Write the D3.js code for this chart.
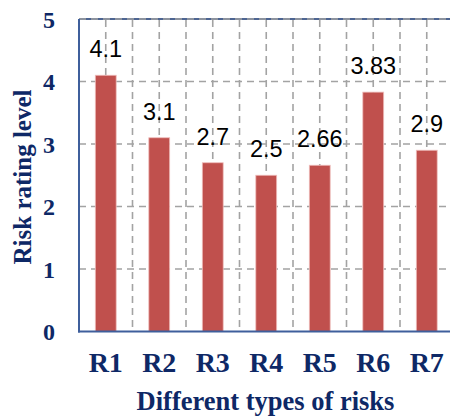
<!DOCTYPE html>
<html>
<head>
<meta charset="utf-8">
<script src="https://cdn.jsdelivr.net/npm/d3@7"></script>
<style>
  html, body { margin: 0; padding: 0; background: #fff; }
  svg { display: block; }
</style>
</head>
<body>
<svg id="chart" width="450" height="416"></svg>
<script>
const categories = ["R1", "R2", "R3", "R4", "R5", "R6", "R7"];
const values = [4.1, 3.1, 2.7, 2.5, 2.66, 3.83, 2.9];
const valueLabels = ["4.1", "3.1", "2.7", "2.5", "2.66", "3.83", "2.9"];
const yTicks = [0, 1, 2, 3, 4, 5];
const xTitle = "Different types of risks";
const yTitle = "Risk rating level";

(function () {
const svg = d3.select("#chart");
const mLeft = 79, mRight = 453.5, mTop = 19, mBottom = 331.5;
const navy = "#0e2866";
const axisBlue = "#3f5f9c";
const gridGray = "#a3a3a3";
const serif = "'Liberation Serif', 'Times New Roman', serif";

const x = d3.scaleBand().domain(categories).range([mLeft, mRight])
  .paddingInner(0.61).paddingOuter(0.305);
const y = d3.scaleLinear().domain([0, 5]).range([mBottom, mTop]);
const step = x.step();

// top border
svg.append("line").attr("x1", mLeft).attr("x2", 450).attr("y1", y(5)).attr("y2", y(5))
  .attr("stroke", "#4d6592").attr("stroke-width", 2);

// horizontal gridlines
svg.append("g").selectAll("line").data(yTicks.filter(d => d > 0)).join("line")
  .attr("x1", mLeft).attr("x2", 450)
  .attr("y1", d => y(d)).attr("y2", d => y(d))
  .attr("stroke", gridGray).attr("stroke-width", 1.6).attr("stroke-dasharray", "7,5");

// vertical gridlines: band centers and band boundaries
const vLines = [];
categories.forEach(c => {
  const cx = x(c) + x.bandwidth() / 2;
  vLines.push(cx);
  vLines.push(cx + step / 2);
});
svg.append("g").selectAll("line").data(vLines).join("line")
  .attr("x1", d => d).attr("x2", d => d)
  .attr("y1", mTop + 1).attr("y2", mBottom)
  .attr("stroke", gridGray).attr("stroke-width", 1.6).attr("stroke-dasharray", "7,5");

// bars
svg.append("g").selectAll("rect").data(categories).join("rect")
  .attr("x", c => x(c))
  .attr("y", (c, i) => y(values[i]))
  .attr("width", x.bandwidth())
  .attr("height", (c, i) => y(0) - y(values[i]))
  .attr("fill", "#C0504D")
  .attr("stroke", "#eebcbb").attr("stroke-width", 0.8);

// value labels
svg.append("g").selectAll("text").data(categories).join("text")
  .attr("x", c => x(c) + x.bandwidth() / 2)
  .attr("y", (c, i) => y(values[i]) - 18)
  .attr("text-anchor", "middle")
  .attr("font-family", "'Liberation Sans', Arial, sans-serif")
  .attr("font-size", 23.5)
  .attr("fill", "#000")
  .text((c, i) => valueLabels[i]);

// axes lines
svg.append("line").attr("x1", mLeft).attr("x2", mLeft).attr("y1", mTop).attr("y2", mBottom + 1)
  .attr("stroke", axisBlue).attr("stroke-width", 2);
svg.append("line").attr("x1", mLeft - 1).attr("x2", 450).attr("y1", mBottom).attr("y2", mBottom)
  .attr("stroke", axisBlue).attr("stroke-width", 2);

// y axis
const yAxis = svg.append("g").attr("transform", `translate(${mLeft},0)`)
  .call(d3.axisLeft(y).tickValues(yTicks).tickSize(0).tickPadding(24).tickFormat(d3.format("d")));
yAxis.select(".domain").remove();
yAxis.selectAll("text")
  .attr("font-family", serif)
  .attr("font-weight", "bold").attr("font-size", 24).attr("fill", navy)
  .attr("dy", "0.34em");

// x axis
const xAxis = svg.append("g").attr("transform", `translate(0,${mBottom})`)
  .call(d3.axisBottom(x).tickSize(0));
xAxis.select(".domain").remove();
xAxis.selectAll("text")
  .attr("y", 40.5).attr("dy", 0)
  .attr("font-family", serif)
  .attr("font-weight", "bold").attr("font-size", 28).attr("fill", navy);

// titles
svg.append("text").attr("x", 265.5).attr("y", 410).attr("text-anchor", "middle")
  .attr("font-family", serif)
  .attr("font-weight", "bold").attr("font-size", 26.5).attr("fill", navy)
  .text(xTitle);
svg.append("text").attr("transform", "translate(31,177) rotate(-90)")
  .attr("text-anchor", "middle")
  .attr("font-family", serif)
  .attr("font-weight", "bold").attr("font-size", 25).attr("fill", navy)
  .text(yTitle);
})();
</script>
</body>
</html>
